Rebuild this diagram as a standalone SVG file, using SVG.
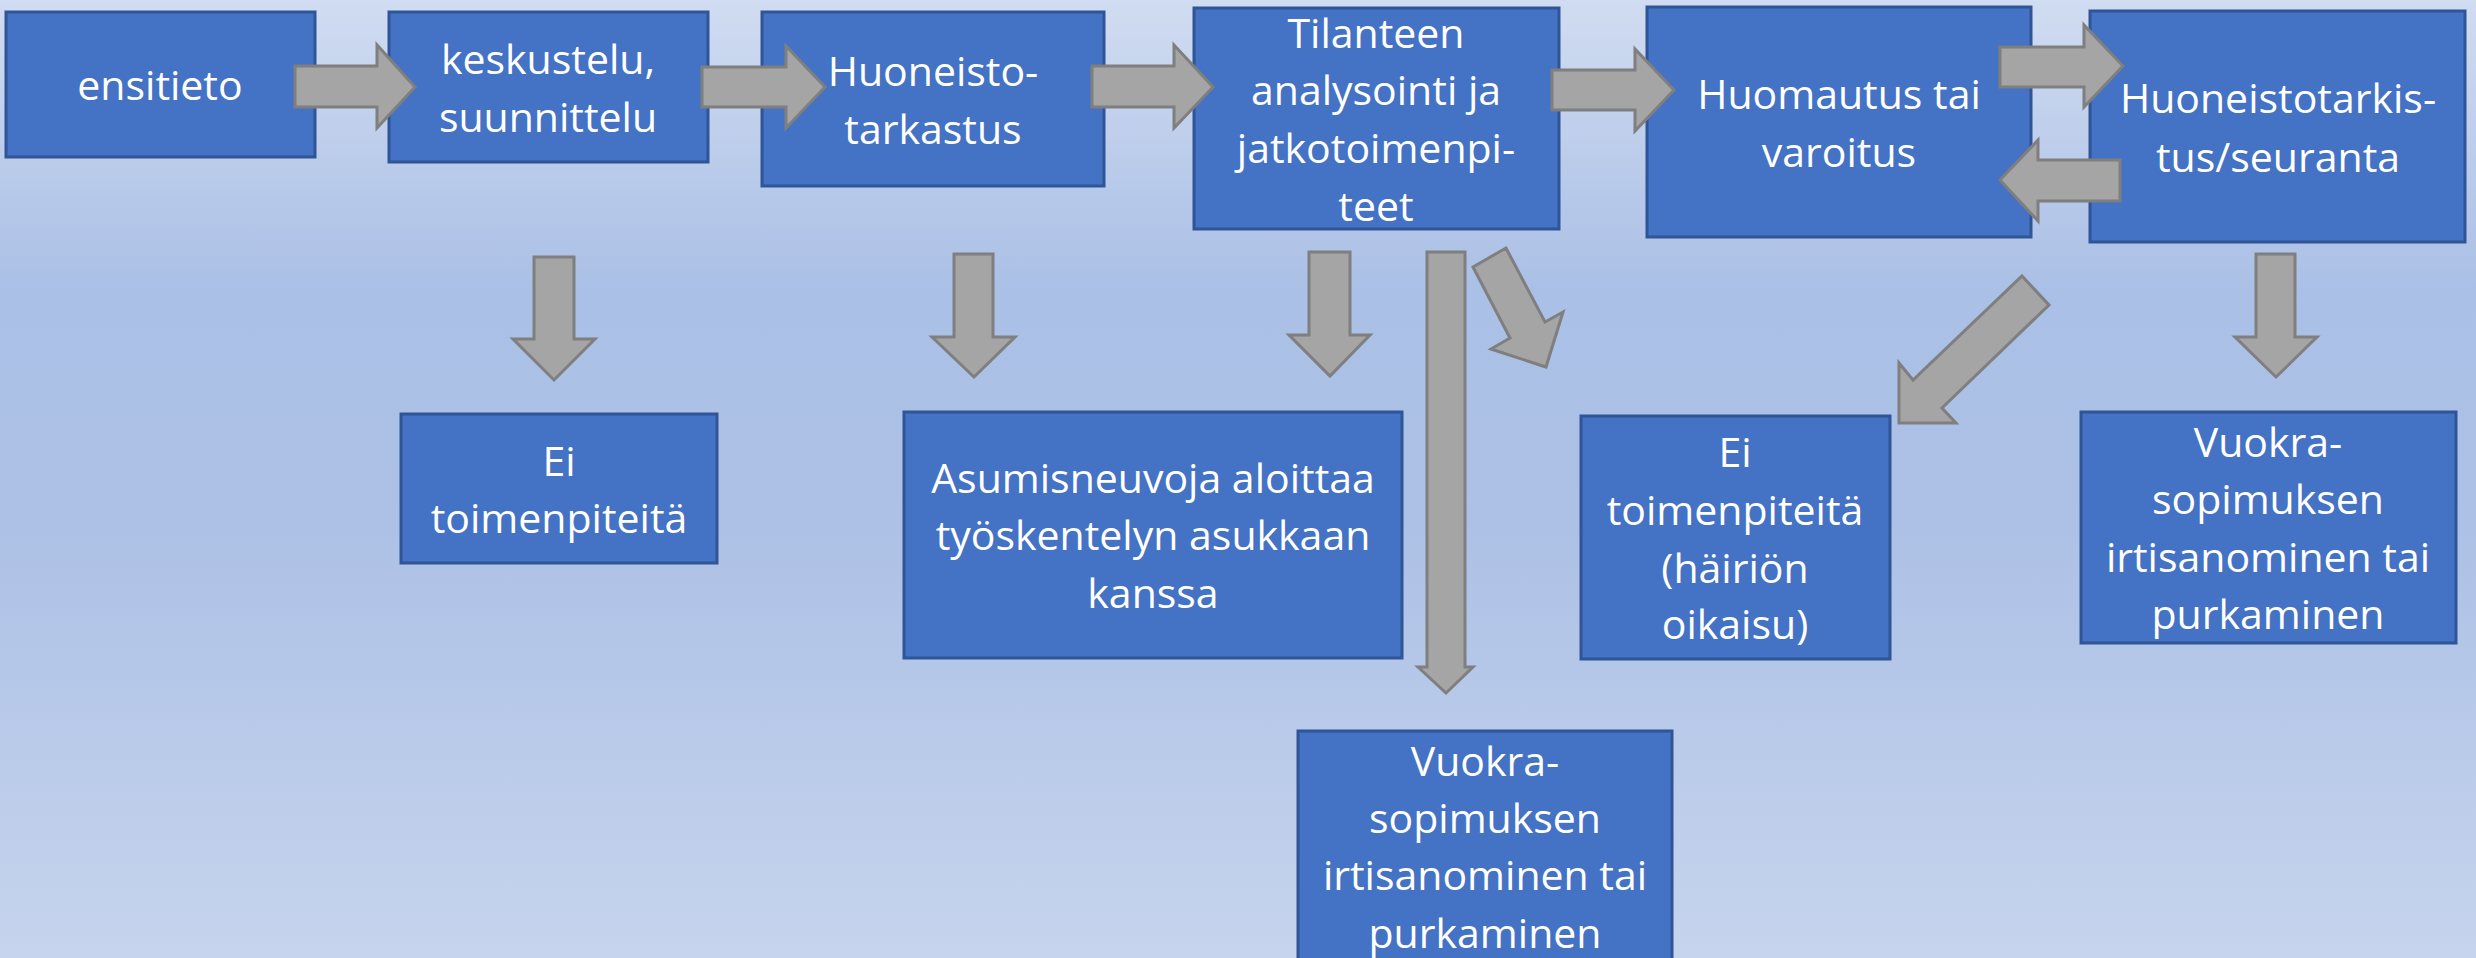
<svg xmlns="http://www.w3.org/2000/svg" width="2476" height="958" viewBox="0 0 2476 958">
<defs>
<linearGradient id="bg" x1="0" y1="0" x2="0" y2="1">
<stop offset="0" stop-color="#d0dcf1"/>
<stop offset="0.3" stop-color="#abc0e6"/>
<stop offset="0.55" stop-color="#adc1e6"/>
<stop offset="1" stop-color="#c6d4ed"/>
</linearGradient>
</defs>
<style>
.box{fill:#4472c4;stroke:#2f5597;stroke-width:3}
.arr{fill:#a5a5a5;stroke:#7f7f7f;stroke-width:3;stroke-linejoin:miter}
text{font-family:"Open Sans","Noto Sans","Liberation Sans",sans-serif;font-size:41px;fill:#ffffff;text-anchor:middle}
</style>
<rect x="0" y="0" width="2476" height="958" fill="url(#bg)"/>

<g id="n1"><rect class="box" x="6" y="12" width="309" height="145"/><text x="160" y="100">ensitieto</text></g>
<g id="n2"><rect class="box" x="389" y="12" width="319" height="150"/><text x="548" y="74">keskustelu,</text><text x="548" y="132">suunnittelu</text></g>
<g id="n3"><rect class="box" x="762" y="12" width="342" height="174"/><text x="933" y="86">Huoneisto-</text><text x="933" y="144">tarkastus</text></g>
<g id="n4"><rect class="box" x="1194" y="8" width="365" height="221"/><text x="1376" y="48">Tilanteen</text><text x="1376" y="105">analysointi ja</text><text x="1376" y="163">jatkotoimenpi-</text><text x="1376" y="221">teet</text></g>
<g id="n5"><rect class="box" x="1647" y="7" width="384" height="230"/><text x="1839" y="109">Huomautus tai</text><text x="1839" y="167">varoitus</text></g>
<g id="n6"><rect class="box" x="2090" y="11" width="375" height="231"/><text x="2278" y="113">Huoneistotarkis-</text><text x="2278" y="172">tus/seuranta</text></g>
<g id="n7"><rect class="box" x="401" y="414" width="316" height="149"/><text x="559" y="476">Ei</text><text x="559" y="533">toimenpiteitä</text></g>
<g id="n8"><rect class="box" x="904" y="412" width="498" height="246"/><text x="1153" y="493">Asumisneuvoja aloittaa</text><text x="1153" y="550">työskentelyn asukkaan</text><text x="1153" y="608">kanssa</text></g>
<g id="n9"><rect class="box" x="1581" y="416" width="309" height="243"/><text x="1735" y="467">Ei</text><text x="1735" y="525">toimenpiteitä</text><text x="1735" y="583">(häiriön</text><text x="1735" y="639">oikaisu)</text></g>
<g id="n10"><rect class="box" x="2081" y="412" width="375" height="231"/><text x="2268" y="457">Vuokra-</text><text x="2268" y="514">sopimuksen</text><text x="2268" y="572">irtisanominen tai</text><text x="2268" y="629">purkaminen</text></g>
<g id="n11"><rect class="box" x="1298" y="731" width="374" height="240"/><text x="1485" y="776">Vuokra-</text><text x="1485" y="833">sopimuksen</text><text x="1485" y="890">irtisanominen tai</text><text x="1485" y="948">purkaminen</text></g>

<g id="connectors">
<polygon class="arr" points="295,66 377,66 377,45 415,87 377,128 377,107 295,107"/>
<polygon class="arr" points="702,67 786,67 786,46 825,87 786,128 786,107 702,107"/>
<polygon class="arr" points="1092,66 1174,66 1174,45 1213,87 1174,128 1174,107 1092,107"/>
<polygon class="arr" points="1552,70 1635,70 1635,49 1674,90 1635,131 1635,110 1552,110"/>
<polygon class="arr" points="2000,47 2084,47 2084,25 2123,66 2084,107 2084,87 2000,87"/>
<polygon class="arr" points="2120,160 2038,160 2038,140 2000,180 2038,221 2038,201 2120,201"/>
<polygon class="arr" points="534,257 574,257 574,339 595,339 554,380 513,339 534,339"/>
<polygon class="arr" points="954,254 993,254 993,337 1015,337 974,377 932,337 954,337"/>
<polygon class="arr" points="1309,252 1350,252 1350,335 1370,335 1330,376 1289,335 1309,335"/>
<polygon class="arr" points="2256,254 2295,254 2295,337 2317,337 2276,377 2235,337 2256,337"/>
<polygon class="arr" points="1427,252 1465,252 1465,667 1473,667 1446,693 1418,667 1427,667"/>
<polygon class="arr" points="1506,248 1545,322 1563,312 1546,367 1491,349 1510,338 1473,267"/>
<polygon class="arr" points="2022,276 2049,305 1942,408 1956,423 1899,423 1899,363 1913,380"/>
</g>
</svg>
